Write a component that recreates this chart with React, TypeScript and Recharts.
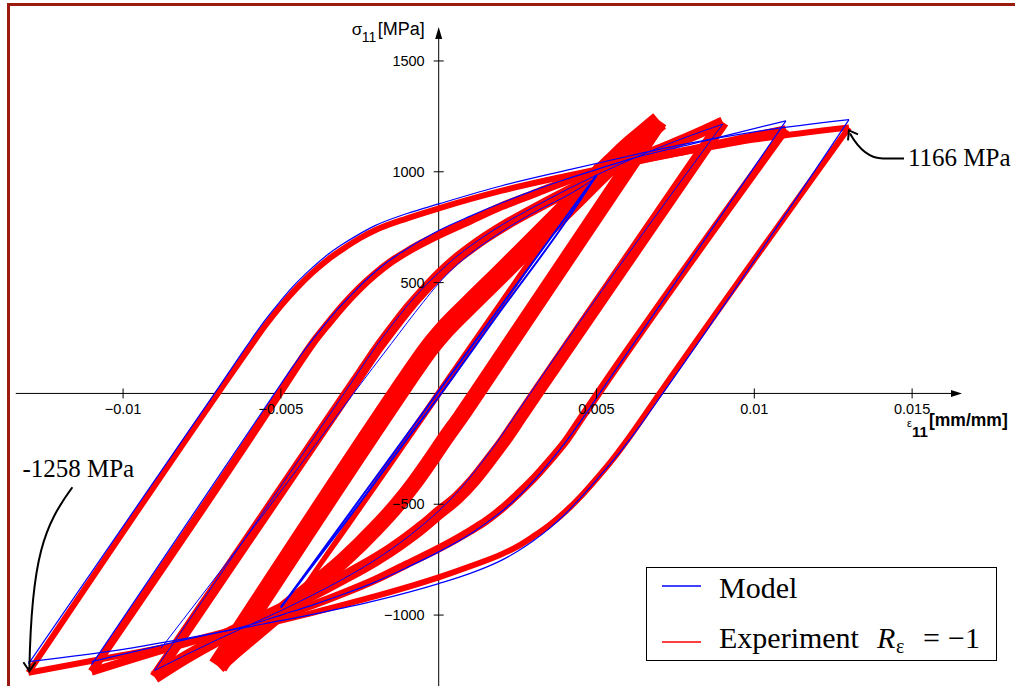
import React from 'react';
import { LineChart, Line, XAxis, YAxis, ReferenceLine, ReferenceDot } from 'recharts';

type Pt = [number, number];

// ---- Experiment (R_eps = -1), strain [mm/mm], stress [MPa]
const exp13Up: Pt[] = [[-0.013,-1260],[-0.007,0],[-0.006,205],[-0.0055,305],[-0.005,395],[-0.0045,475],[-0.004,545],[-0.0035,605],[-0.003,655],[-0.0025,700],[-0.002,737],[-0.001,790],[0,835],[0.002,915],[0.004,980],[0.006,1040],[0.008,1095],[0.01,1145],[0.013,1200]];
const exp13Down: Pt[] = [[-0.013,-1260],[-0.01,-1180],[-0.008,-1125],[-0.006,-1060],[-0.004,-990],[-0.002,-915],[0,-830],[0.001,-780],[0.002,-725],[0.0025,-690],[0.003,-645],[0.0035,-595],[0.004,-535],[0.0045,-465],[0.005,-385],[0.0055,-300],[0.006,-205],[0.007,0],[0.013,1200]];
const exp11Up: Pt[] = [[-0.011,-1255],[-0.00505,0],[-0.0045,120],[-0.004,225],[-0.0035,315],[-0.003,400],[-0.0025,475],[-0.002,540],[-0.0015,595],[-0.001,640],[0,715],[0.001,780],[0.002,845],[0.003,900],[0.004,955],[0.005,1000],[0.006,1040],[0.008,1100],[0.011,1192]];
const exp11Down: Pt[] = [[-0.011,-1255],[-0.008,-1125],[-0.006,-1050],[-0.005,-1005],[-0.004,-955],[-0.003,-900],[-0.002,-840],[-0.001,-770],[0,-700],[0.001,-620],[0.0015,-575],[0.002,-520],[0.0025,-455],[0.003,-385],[0.0035,-305],[0.004,-220],[0.0045,-115],[0.00505,0],[0.011,1192]];
const exp9Up: Pt[] = [[-0.009,-1280],[-0.0029,0],[-0.0024,105],[-0.0019,210],[-0.0014,305],[-0.0009,395],[-0.0004,475],[0,535],[0.0005,600],[0.001,655],[0.0015,705],[0.002,750],[0.003,830],[0.004,905],[0.005,975],[0.006,1040],[0.007,1100],[0.008,1160],[0.009,1225]];
const exp9Down: Pt[] = [[-0.009,-1280],[-0.008,-1190],[-0.007,-1110],[-0.006,-1040],[-0.005,-975],[-0.004,-905],[-0.003,-830],[-0.002,-750],[-0.0015,-705],[-0.001,-655],[-0.0005,-600],[0,-540],[0.0006,-470],[0.0011,-395],[0.0016,-305],[0.0021,-210],[0.0026,-105],[0.0031,0],[0.009,1225]];
const exp7Up: Pt[] = [[-0.007,-1230],[-0.0013,0],[-0.0008,105],[-0.0003,205],[0.0002,290],[0.001,405],[0.002,545],[0.003,688],[0.004,830],[0.005,972],[0.0055,1042],[0.006,1110],[0.0065,1170],[0.007,1230]];
const exp7Down: Pt[] = [[-0.007,-1230],[-0.0065,-1165],[-0.006,-1105],[-0.0055,-1045],[-0.005,-985],[-0.004,-870],[-0.003,-750],[-0.002,-610],[-0.0013,-500],[-0.0008,-410],[-0.0003,-310],[0.0002,-205],[0.0007,-105],[0.0012,0],[0.007,1230]];
const exp5Up: Pt[] = [[-0.005,-1025],[-0.003,-610],[-0.001,-195],[0,10],[0.002,420],[0.004,830],[0.005,1030]];
const exp5Down: Pt[] = [[-0.005,-1025],[-0.003,-625],[-0.001,-215],[0,-10],[0.002,400],[0.004,815],[0.005,1030]];

// ---- Model
const mod13Up: Pt[] = [[-0.013,-1220],[-0.0071,0],[-0.0061,210],[-0.0056,312],[-0.0051,402],[-0.0046,485],[-0.0041,555],[-0.0036,617],[-0.0031,668],[-0.0026,712],[-0.002,758],[-0.001,812],[0,855],[0.002,937],[0.004,1005],[0.006,1070],[0.008,1130],[0.01,1180],[0.013,1235]];
const mod13Down: Pt[] = [[-0.013,-1210],[-0.01,-1155],[-0.008,-1105],[-0.006,-1052],[-0.004,-997],[-0.002,-935],[0,-858],[0.001,-812],[0.002,-752],[0.0025,-712],[0.003,-665],[0.0035,-610],[0.004,-545],[0.0045,-470],[0.005,-390],[0.0056,-290],[0.0062,-180],[0.0071,0],[0.013,1235]];
const mod11Up: Pt[] = [[-0.011,-1225],[-0.0052,0],[-0.0047,105],[-0.0042,205],[-0.0037,295],[-0.0032,380],[-0.0027,455],[-0.0022,525],[-0.0017,585],[-0.0012,635],[0,735],[0.001,800],[0.002,860],[0.003,915],[0.004,965],[0.005,1010],[0.006,1055],[0.008,1125],[0.011,1230]];
const mod11Down: Pt[] = [[-0.011,-1210],[-0.008,-1110],[-0.006,-1045],[-0.005,-1000],[-0.004,-955],[-0.003,-905],[-0.002,-850],[-0.001,-785],[0,-715],[0.0011,-625],[0.0016,-575],[0.0021,-520],[0.0026,-455],[0.0031,-380],[0.0036,-295],[0.0041,-205],[0.0046,-105],[0.0051,0],[0.011,1230]];
const mod9Up: Pt[] = [[-0.009,-1250],[-0.003,0],[-0.0025,105],[-0.002,210],[-0.0015,305],[-0.001,395],[-0.0005,475],[0,545],[0.0005,610],[0.001,665],[0.002,760],[0.003,840],[0.004,915],[0.005,985],[0.006,1050],[0.007,1110],[0.009,1215]];
const mod9Down: Pt[] = [[-0.009,-1250],[-0.007,-1110],[-0.006,-1045],[-0.005,-980],[-0.004,-910],[-0.003,-835],[-0.002,-750],[-0.001,-650],[0,-530],[0.0004,-475],[0.0009,-395],[0.0014,-305],[0.0019,-210],[0.0024,-105],[0.0029,0],[0.009,1215]];
const mod9First: Pt[] = [[-0.0088,-1150],[-0.006,-630],[-0.004,-250],[-0.0027,0],[-0.0015,225],[-0.0005,410],[0,497],[0.0005,570],[0.001,630],[0.002,730],[0.003,815],[0.00425,907],[0.005,975]];
const mod5Up: Pt[] = [[-0.005,-965],[-0.003,-575],[-0.001,-185],[0,10],[0.002,400],[0.004,790],[0.005,985]];
const mod5Down: Pt[] = [[-0.005,-965],[-0.003,-590],[-0.001,-205],[0,-15],[0.002,380],[0.004,770],[0.005,985]];

// ---- Axis ticks
const xTicks = [-0.01, -0.005, 0.005, 0.01, 0.015];
const xTickLabels = ['\u22120.01', '\u22120.005', '0.005', '0.01', '0.015'];
const yTicks = [-1000, -500, 500, 1000, 1500];
const yTickLabels = ['\u22121000', '\u2212500', '500', '1000', '1500'];

// ---- Annotations
const annMax: Pt = [0.013, 1200];
const annMaxText = '1166 MPa';
const annMin: Pt = [-0.013, -1258];
const annMinText = '-1258 MPa';

const expSeries: { id: string; pts: Pt[] }[] = [
  { id: 'e13u', pts: exp13Up }, { id: 'e13d', pts: exp13Down },
  { id: 'e11u', pts: exp11Up }, { id: 'e11d', pts: exp11Down },
  { id: 'e9u', pts: exp9Up }, { id: 'e9d', pts: exp9Down },
  { id: 'e7u', pts: exp7Up }, { id: 'e7d', pts: exp7Down },
  { id: 'e5u', pts: exp5Up }, { id: 'e5d', pts: exp5Down },
];
const modSeries: { id: string; pts: Pt[] }[] = [
  { id: 'm13u', pts: mod13Up }, { id: 'm13d', pts: mod13Down },
  { id: 'm11u', pts: mod11Up }, { id: 'm11d', pts: mod11Down },
  { id: 'm9u', pts: mod9Up }, { id: 'm9d', pts: mod9Down }, { id: 'm9f', pts: mod9First },
  { id: 'm5u', pts: mod5Up }, { id: 'm5d', pts: mod5Down },
];

const expWidth: Record<string, number> = {
  e13u: 6, e13d: 6, e11u: 8, e11d: 8, e9u: 11, e9d: 13, e7u: 20, e7d: 16, e5u: 4, e5d: 4,
};
const modWidth: Record<string, number> = {
  m13u: 1.2, m13d: 1.2, m11u: 1.2, m11d: 1.2, m9u: 1, m9d: 1, m9f: 1, m5u: 2, m5d: 2,
};

const rows = (pts: Pt[]) => pts.map(([e, s]) => ({ e, s }));

const SANS = '"Liberation Sans", Arial, Helvetica, sans-serif';
const SERIF = '"Liberation Serif", "Times New Roman", serif';

const W = 1015;
const H = 686;

export default function App() {
  return (
    <div style={{ position: 'fixed', left: 0, top: 0, width: W, height: H, overflow: 'hidden', background: '#fff' }}>
      <div style={{ position: 'absolute', left: 7, top: 3, width: 1100, height: 800, border: '3px solid #9b1a10', boxSizing: 'border-box' }} />
      <div style={{ position: 'absolute', left: 0, top: 0 }}>
        <LineChart width={W} height={H} margin={{ top: 0, right: 0, bottom: 0, left: 0 }}>
          <XAxis type="number" dataKey="e" domain={[-0.0139, 0.01826]} allowDataOverflow hide />
          <YAxis type="number" dataKey="s" domain={[-1320, 1775]} allowDataOverflow hide />
          {xTicks.map((t, i) => (
            <ReferenceDot key={'xt' + i} x={t} y={0} r={0}
              shape={(p: any) => (
                <g>
                  <line x1={p.cx} x2={p.cx} y1={p.cy - 5} y2={p.cy + 5} stroke="#000" strokeWidth={1} />
                  <text x={p.cx} y={p.cy + 21} textAnchor="middle" fontSize={14.5} fontFamily={SANS} fill="#000">{xTickLabels[i]}</text>
                </g>
              )} />
          ))}
          {yTicks.map((t, i) => (
            <ReferenceDot key={'yt' + i} x={0} y={t} r={0}
              shape={(p: any) => (
                <g>
                  <line x1={p.cx - 5} x2={p.cx + 5} y1={p.cy} y2={p.cy} stroke="#000" strokeWidth={1} />
                  <text x={p.cx - 14} y={p.cy + 5} textAnchor="end" fontSize={14.5} fontFamily={SANS} fill="#000">{yTickLabels[i]}</text>
                </g>
              )} />
          ))}
          <ReferenceLine segment={[{ x: -0.0134, y: 0 }, { x: 0.0163, y: 0 }]} stroke="#000" strokeWidth={1} />
          <ReferenceLine segment={[{ x: 0, y: -1320 }, { x: 0, y: 1620 }]} stroke="#000" strokeWidth={1} />
          <ReferenceDot x={0.01658} y={0} r={0}
            shape={(p: any) => (
              <g>
                <polygon points={`${p.cx},${p.cy} ${p.cx - 11},${p.cy - 3.5} ${p.cx - 11},${p.cy + 3.5}`} fill="#000" />
                <text x={p.cx - 55} y={p.cy + 34} fontSize={11} fontFamily={SANS} fill="#000">ε</text>
                <text x={p.cx - 50} y={p.cy + 44} fontSize={15} fontWeight="bold" fontFamily={SANS} fill="#000">11</text>
                <text x={p.cx - 33} y={p.cy + 33} fontSize={17.5} fontWeight="bold" fontFamily={SANS} fill="#000">[mm/mm]</text>
              </g>
            )} />
          <ReferenceDot x={0} y={1653} r={0}
            shape={(p: any) => (
              <g>
                <polygon points={`${p.cx},${p.cy} ${p.cx - 3.5},${p.cy + 12} ${p.cx + 3.5},${p.cy + 12}`} fill="#000" />
                <text x={p.cx - 87} y={p.cy + 8} fontSize={17} fontFamily={SANS} fill="#000">σ</text>
                <text x={p.cx - 77} y={p.cy + 15} fontSize={14} fontFamily={SANS} fill="#000">11</text>
                <text x={p.cx - 61} y={p.cy + 8} fontSize={18} fontFamily={SANS} fill="#000">[MPa]</text>
              </g>
            )} />
          {expSeries.map((s) => (
            <Line key={s.id} data={rows(s.pts)} dataKey="s" type="monotone" stroke="#ff0000"
              strokeWidth={expWidth[s.id]} dot={false} activeDot={false} isAnimationActive={false}
              strokeLinejoin="round" strokeLinecap="butt" />
          ))}
          {modSeries.map((s) => (
            <Line key={s.id} data={rows(s.pts)} dataKey="s" type="monotone" stroke="#0000ff"
              strokeWidth={modWidth[s.id]} dot={false} activeDot={false} isAnimationActive={false} />
          ))}
          <ReferenceDot x={annMax[0]} y={annMax[1]} r={0}
            shape={(p: any) => (
              <g>
                <path d={`M ${p.cx + 55} ${p.cy + 31} L ${p.cx + 34} ${p.cy + 31} C ${p.cx + 20} ${p.cy + 31} ${p.cx + 10} ${p.cy + 22} ${p.cx + 1} ${p.cy + 6}`}
                  fill="none" stroke="#000" strokeWidth={2} />
                <path d={`M ${p.cx - 1} ${p.cy + 13} L ${p.cx} ${p.cy + 3} L ${p.cx + 9} ${p.cy + 7}`} fill="none" stroke="#000" strokeWidth={2} />
                <text x={p.cx + 59} y={p.cy + 39} fontSize={25} fontFamily={SERIF} fill="#000">{annMaxText}</text>
              </g>
            )} />
          <ReferenceDot x={annMin[0]} y={annMin[1]} r={0}
            shape={(p: any) => (
              <g>
                <path d={`M ${p.cx + 44} ${p.cy - 185} C ${p.cx + 16} ${p.cy - 147} ${p.cx + 3} ${p.cy - 115} ${p.cx + 1} ${p.cy - 3}`}
                  fill="none" stroke="#000" strokeWidth={2} />
                <path d={`M ${p.cx - 5} ${p.cy - 10} L ${p.cx + 1} ${p.cy - 1} L ${p.cx + 7} ${p.cy - 10}`} fill="none" stroke="#000" strokeWidth={2} />
                <text x={p.cx - 6} y={p.cy - 195} fontSize={25} fontFamily={SERIF} fill="#000">{annMinText}</text>
              </g>
            )} />
        </LineChart>
      </div>
      <div style={{ position: 'absolute', left: 646, top: 567, width: 351, height: 94, border: '1.5px solid #000', boxSizing: 'border-box', background: '#fff' }}>
        <svg width={351} height={94} style={{ position: 'absolute', left: -1.5, top: -1.5 }}>
          <line x1={16} x2={55} y1={19} y2={19} stroke="#0000ff" strokeWidth={1.5} />
          <text x={73} y={31} fontSize={30} fontFamily={SERIF} fill="#000">Model</text>
          <line x1={16} x2={55} y1={75} y2={75} stroke="#ff0000" strokeWidth={1.5} />
          <text x={73} y={81} fontSize={30} fontFamily={SERIF} fill="#000">Experiment</text>
          <text x={231} y={81} fontSize={30} fontStyle="italic" fontFamily={SERIF} fill="#000">R</text>
          <text x={250} y={86} fontSize={20} fontFamily={SERIF} fill="#000">ε</text>
          <text x={277} y={81} fontSize={30} fontFamily={SERIF} fill="#000">=</text>
          <text x={302} y={81} fontSize={30} fontFamily={SERIF} fill="#000">{'\u22121'}</text>
        </svg>
      </div>
    </div>
  );
}
